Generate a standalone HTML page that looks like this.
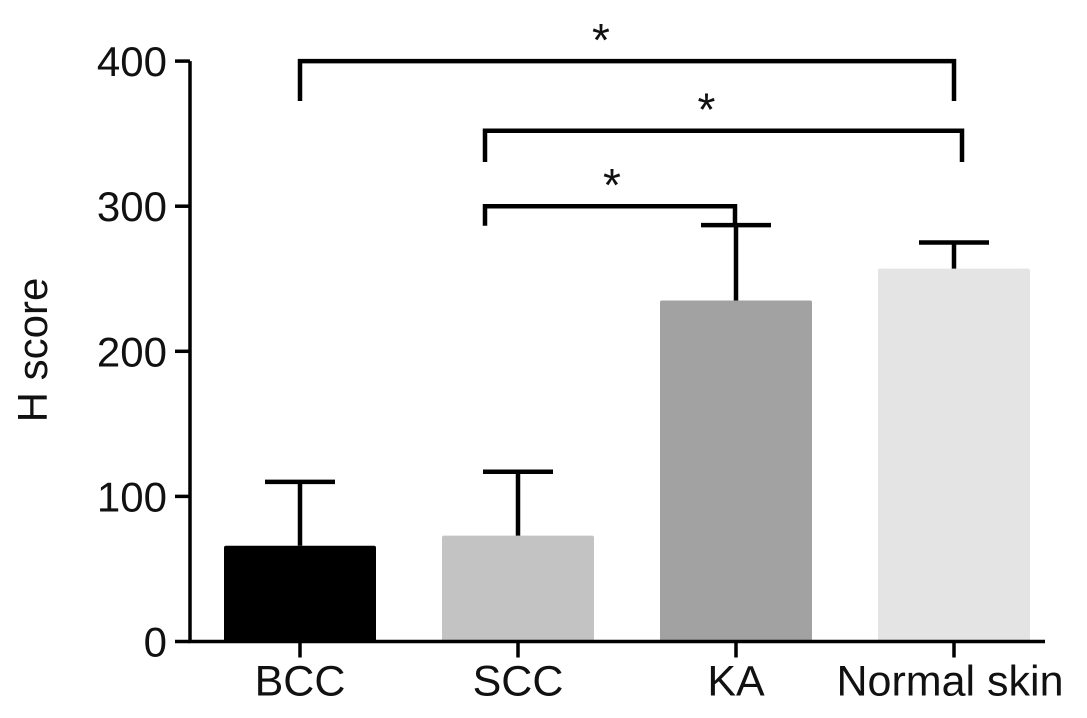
<!DOCTYPE html>
<html><head><meta charset="utf-8"><style>
body{margin:0;background:#fff;}
svg{display:block;font-family:"Liberation Sans",Arial,sans-serif;}
</style></head><body>
<svg id="chart" width="1087" height="718">
</svg>
<script>
const categories=["BCC","SCC","KA","Normal skin"];
const means=[66,73,235,257];
const errors=[44,44,52,18];
const colors=["#000000","#c3c3c3","#a2a2a2","#e4e4e4"];
const yTicks=[0,100,200,300,400];
const brackets=[[0,3,400,22],[1,3,352,16],[1,2,300,8]];
const svg=document.getElementById('chart');
const NS='http://www.w3.org/2000/svg';
const y0=641.5, pxPer=1.451, axisX=190, firstC=300, step=218, bw=152;
const Y=v=>y0-v*pxPer;
const X=i=>firstC+i*step;
const starShift=[-26,-17,2];
function mk(t,a,p){const e=document.createElementNS(NS,t);for(const k in a)e.setAttribute(k,a[k]);(p||svg).appendChild(e);return e;}
categories.forEach((c,i)=>{
  const top=Y(means[i]);
  const r=mk('rect',{x:X(i)-bw/2,y:top,width:bw,height:y0-top,fill:colors[i],rx:2});
  
  
  const et=Y(means[i]+errors[i]);
  const e=mk('path',{d:`M${X(i)} ${top} V${et} M${X(i)-35} ${et} H${X(i)+35}`,stroke:'#000','stroke-width':4.5,fill:'none'});
  
  
  mk('line',{x1:X(i),x2:X(i),y1:y0,y2:y0+16,stroke:'#000','stroke-width':3.5});
  const t=mk('text',{x:X(i)+(i==3?-4:0),y:y0+54,'font-size':43,'text-anchor':'middle',fill:'#111'});
  t.textContent=c;
  
  
});
const ax=mk('path',{d:`M${axisX} ${Y(400)} V${y0} H1045`,stroke:'#000','stroke-width':3.5,fill:'none'});


yTicks.forEach(v=>{
  mk('line',{x1:axisX-15,x2:axisX,y1:Y(v),y2:Y(v),stroke:'#000','stroke-width':3.5});
  const t=mk('text',{x:167,y:Y(v)+15,'font-size':42,'text-anchor':'end',fill:'#111'});
  t.textContent=v;
  
  
});
const yt=mk('text',{transform:'translate(47,350) rotate(-90)','font-size':42,'text-anchor':'middle',fill:'#111'});
yt.textContent='H score';


brackets.forEach((b,k)=>{
  const yy=Y(b[2]), leg=b[3]*pxPer+8;
  const x1=X(b[0])+(k?-33:0), x2=X(b[1])+(k==1?8:(k==2?-1:0));
  const p=mk('path',{d:`M${x1} ${yy+leg} V${yy} H${x2} V${yy+leg}`,stroke:'#000','stroke-width':4.5,fill:'none'});
  
  
  const s=mk('text',{x:(x1+x2)/2+starShift[k],y:yy-5,'font-size':46,'text-anchor':'middle',fill:'#111'});
  s.textContent='*';
  
  
});
</script>
</body></html>
